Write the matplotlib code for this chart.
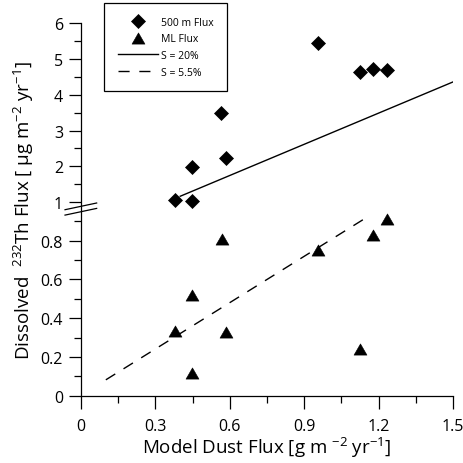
"""Dissolved 232Th flux vs model dust flux, broken y axis."""

import matplotlib

matplotlib.use("Agg")
import matplotlib.pyplot as plt
import numpy as np
from matplotlib.path import Path

plt.rcParams["font.family"] = ["Open Sans", "DejaVu Sans"]
plt.rcParams["mathtext.fontset"] = "custom"
plt.rcParams["mathtext.rm"] = "Open Sans"
plt.rcParams["mathtext.default"] = "regular"

# values
dust_500m = [0.379, 0.449, 0.449, 0.565, 0.583, 0.956, 1.125, 1.176, 1.233]
flux_500m = [1.05, 1.03, 1.99, 3.49, 2.24, 5.46, 4.63, 4.73, 4.69]
dust_ml = [0.379, 0.449, 0.449, 0.567, 0.583, 0.956, 1.125, 1.176, 1.233]
flux_ml = [0.335, 0.519, 0.118, 0.81, 0.329, 0.753, 0.239, 0.831, 0.914]

s20_x = [0.40, 1.50]
s20_y = [1.16, 4.36]
s55_x = [0.10, 1.14]
s55_y = [0.082, 0.911]

x_major = [0, 0.3, 0.6, 0.9, 1.2, 1.5]
x_major_labels = ["0", "0.3", "0.6", "0.9", "1.2", "1.5"]
x_minor = [0.15, 0.45, 0.75, 1.05, 1.35]
y_major = [0, 0.2, 0.4, 0.6, 0.8, 1, 2, 3, 4, 5, 6]
y_major_labels = ["0", "0.2", "0.4", "0.6", "0.8", "1", "2", "3", "4", "5", "6"]
y_minor = [0.1, 0.3, 0.5, 0.7, 0.9, 1.5, 2.5, 3.5, 4.5, 5.5]

BREAK = 1.0
UPPER_SQUEEZE = 35.5 / 192.5  # px per unit above the break / below it


def forward(y):
    y = np.asarray(y, dtype=float)
    return np.where(y <= BREAK, y, BREAK + (y - BREAK) * UPPER_SQUEEZE)


def inverse(t):
    t = np.asarray(t, dtype=float)
    return np.where(t <= BREAK, t, BREAK + (t - BREAK) / UPPER_SQUEEZE)


triangle = Path([(-1, -0.866), (1, -0.866), (0, 0.866), (-1, -0.866)],
                [Path.MOVETO, Path.LINETO, Path.LINETO, Path.CLOSEPOLY])

fig = plt.figure(figsize=(4.63, 4.64), dpi=100)
ax = fig.add_axes([0.175, 0.145, 0.8035, 0.8026])
ax.set_yscale("function", functions=(forward, inverse))

ax.plot(dust_500m, flux_500m, linestyle="none", marker="D", markersize=7,
        color="black", markeredgewidth=0.5, label="500 m Flux", zorder=3)
ax.plot(dust_ml, flux_ml, linestyle="none", marker=triangle, markersize=9.3,
        color="black", markeredgewidth=0.4, label="ML Flux", zorder=3)
ax.plot(s20_x, s20_y, color="black", linewidth=1.0, label="S = 20%")
ax.plot(s55_x, s55_y, color="black", linewidth=1.0, dashes=(8, 7), label="S = 5.5%")

ax.set_xlim(0, 1.5)
ax.set_ylim(0, 6)
ax.set_xticks(x_major)
ax.set_xticklabels(x_major_labels)
ax.set_xticks(x_minor, minor=True)
ax.set_yticks(y_major)
ax.set_yticklabels(y_major_labels)
ax.set_yticks(y_minor, minor=True)

for side in ("top", "right"):
    ax.spines[side].set_visible(False)
for side in ("left", "bottom"):
    ax.spines[side].set_linewidth(0.9)
ax.tick_params(which="major", direction="out", length=9, width=0.9, labelsize=11.5)
ax.tick_params(which="minor", direction="out", length=5, width=0.9)
ax.tick_params(axis="x", which="major", pad=7)
ax.tick_params(axis="y", which="major", pad=4)

# break marks on the y axis
for dy in (0.0, -0.0145):
    ax.plot([-0.043, 0.042], [0.4995 + dy, 0.5175 + dy], transform=ax.transAxes,
            color="black", linewidth=0.9, clip_on=False)

ax.set_xlabel(r"Model Dust Flux [g m $^{-2}$ yr$^{-1}$]", fontsize=13.5, labelpad=1)
ax.set_ylabel(r"Dissolved  $^{232}$Th Flux [ µg m$^{-2}$ yr$^{-1}$]", fontsize=13.5,
              labelpad=3)

handles, labels = ax.get_legend_handles_labels()
leg = fig.legend(handles, labels, loc="upper left",
                 bbox_to_anchor=(104 / 463, 1 - 4 / 464), borderaxespad=0,
                 fontsize=7.5, handlelength=3.9, labelspacing=0.55,
                 borderpad=1.3, handletextpad=0.3, fancybox=False,
                 edgecolor="black", framealpha=1)
leg.get_frame().set_linewidth(0.9)

fig.savefig("out.png", dpi=100, facecolor="white")
